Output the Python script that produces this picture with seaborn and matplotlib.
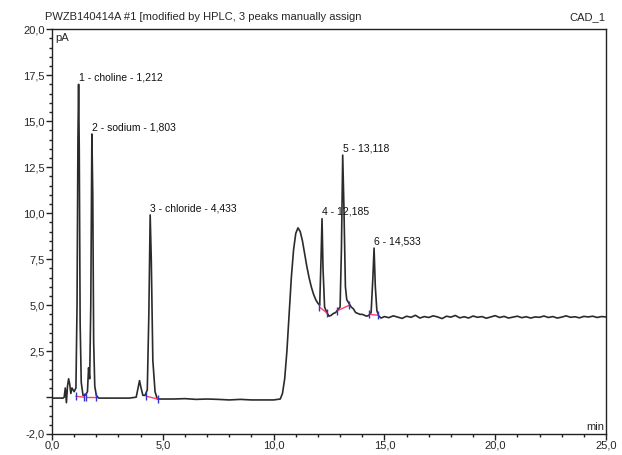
import numpy as np
import pandas as pd
import matplotlib
matplotlib.use("Agg")
import matplotlib.pyplot as plt
import seaborn as sns
from matplotlib.ticker import FixedLocator, MultipleLocator

# ── Data ───────────────────────────────────────────────────────

TRACE_TIME = [
    0.0, 0.3, 0.5, 0.55, 0.6, 0.65, 0.7, 0.75, 0.8, 0.85, 0.9, 1.0, 1.08,
    1.13, 1.17, 1.2, 1.23, 1.27, 1.32, 1.4, 1.5, 1.6, 1.65, 1.7, 1.75, 1.8,
    1.84, 1.88, 1.93, 2.0, 2.1, 2.5, 3.0, 3.5, 3.8, 3.9, 3.95, 4.0, 4.1, 4.2,
    4.3, 4.37, 4.43, 4.48, 4.55, 4.65, 4.75, 4.9, 5.5, 6.0, 6.5, 7.0, 7.5,
    8.0, 8.5, 9.0, 9.5, 10.0, 10.3, 10.4, 10.5, 10.6, 10.7, 10.8, 10.9, 11.0,
    11.1, 11.2, 11.3, 11.4, 11.5, 11.6, 11.7, 11.8, 11.9, 12.0, 12.08, 12.14,
    12.185, 12.23, 12.3, 12.4, 12.5, 12.6, 12.7, 12.8, 12.9, 13.0, 13.06,
    13.118, 13.17, 13.24, 13.3, 13.4, 13.5, 13.6, 13.7, 13.8, 13.9, 14.0,
    14.1, 14.2, 14.3, 14.4, 14.48, 14.533, 14.59, 14.66, 14.75, 14.85,
    15.0, 15.2, 15.4, 15.6, 15.8, 16.0, 16.2, 16.4, 16.6, 16.8, 17.0, 17.2,
    17.4, 17.6, 17.8, 18.0, 18.2, 18.4, 18.6, 18.8, 19.0, 19.2, 19.4, 19.6,
    19.8, 20.0, 20.2, 20.4, 20.6, 20.8, 21.0, 21.2, 21.4, 21.6, 21.8, 22.0,
    22.2, 22.4, 22.6, 22.8, 23.0, 23.2, 23.4, 23.6, 23.8, 24.0, 24.2, 24.4,
    24.6, 24.8, 25.0,
]
TRACE_PA = [
    -0.05, -0.05, -0.05, 0.0, 0.5, -0.3, 0.6, 1.0, 0.7, 0.2, 0.5, 0.3, 0.5,
    5.0, 14.0, 17.0, 13.5, 4.0, 0.8, 0.1, 0.1, 0.3, 1.6, 1.0, 5.0, 14.3,
    11.0, 3.0, 0.6, 0.1, -0.05, -0.05, -0.05, -0.05, 0.0, 0.6, 0.9, 0.6, 0.1, 0.1,
    0.4, 4.5, 9.9, 7.5, 2.0, 0.3, -0.1, -0.1, -0.1, -0.08, -0.12, -0.1, -0.12,
    -0.15, -0.12, -0.15, -0.15, -0.15, -0.1, 0.2, 1.0, 2.5, 4.5, 6.5, 8.0, 8.9,
    9.2, 9.0, 8.5, 7.8, 7.1, 6.5, 6.0, 5.6, 5.3, 5.1, 5.0, 7.5,
    9.7, 7.0, 4.9, 4.6, 4.4, 4.45, 4.55, 4.6, 4.75, 4.9, 8.0,
    13.15, 10.5, 6.0, 5.3, 5.1, 4.9, 4.8, 4.6, 4.55, 4.5, 4.5,
    4.45, 4.4, 4.45, 4.6, 6.5, 8.1, 6.0, 4.7, 4.4, 4.3,
    4.38, 4.32, 4.42, 4.35, 4.28, 4.4, 4.34, 4.45, 4.3, 4.38, 4.33, 4.42,
    4.36, 4.27, 4.4, 4.35, 4.44, 4.31, 4.37, 4.3, 4.41, 4.34, 4.38, 4.29,
    4.36, 4.43, 4.33, 4.39, 4.3, 4.35, 4.4, 4.32, 4.37, 4.3, 4.36, 4.34,
    4.41, 4.33, 4.38, 4.3, 4.35, 4.42, 4.34, 4.37, 4.31, 4.39, 4.36, 4.4,
    4.33, 4.38, 4.36,
]

PEAK_TIME = [1.212, 1.803, 4.433, 12.185, 13.118, 14.533]
PEAK_HEIGHT = [17.0, 14.3, 9.9, 9.7, 13.15, 8.1]
PEAK_LABEL = [
    "1 - choline - 1,212",
    "2 - sodium - 1,803",
    "3 - chloride - 4,433",
    "4 - 12,185",
    "5 - 13,118",
    "6 - 14,533",
]

# integration baselines: start time, start pA, end time, end pA
BASE_T0 = [1.08, 1.55, 4.25, 12.07, 12.88, 14.32]
BASE_Y0 = [0.05, 0.0, 0.05, 4.9, 4.7, 4.5]
BASE_T1 = [1.45, 2.0, 4.78, 12.43, 13.42, 14.73]
BASE_Y1 = [0.0, 0.0, -0.1, 4.55, 5.0, 4.45]

Y_TICKS = [-2.0, 0.0, 2.5, 5.0, 7.5, 10.0, 12.5, 15.0, 17.5, 20.0]
X_TICKS = [0.0, 5.0, 10.0, 15.0, 20.0, 25.0]

TITLE = "PWZB140414A #1 [modified by HPLC, 3 peaks manually assign"
CHANNEL = "CAD_1"


def comma(v):
    return f"{v:.1f}".replace(".", ",")


# ── Plot ───────────────────────────────────────────────────────

sns.set_style("ticks")
plt.rcParams["font.family"] = ["Liberation Sans", "DejaVu Sans"]

fig = plt.figure(figsize=(6.22, 4.55), dpi=100)
ax = fig.add_axes([0.0836, 0.0462, 0.8907, 0.8898])

df = pd.DataFrame({"time": TRACE_TIME, "pA": TRACE_PA})
sns.lineplot(data=df, x="time", y="pA", ax=ax, sort=False,
             color="#2b2b2b", linewidth=1.2, estimator=None)

for t0, y0, t1, y1 in zip(BASE_T0, BASE_Y0, BASE_T1, BASE_Y1):
    ax.plot([t0, t1], [y0, y1], color="#ff4060", linewidth=1.0, zorder=3)
    ax.plot([t0, t1], [y0, y1], linestyle="none", marker="|",
            color="#3333cc", markersize=6, markeredgewidth=1.0, zorder=4)

for t, h, lab in zip(PEAK_TIME, PEAK_HEIGHT, PEAK_LABEL):
    ax.text(t, h + 0.1, lab, fontsize=7.5, ha="left", va="bottom", color="#111111")

ax.set_xlim(0, 25)
ax.set_ylim(-2, 20)
ax.yaxis.set_major_locator(FixedLocator(Y_TICKS))
ax.set_yticklabels(["" if v == 0 else comma(v) for v in Y_TICKS])
ax.yaxis.set_minor_locator(MultipleLocator(0.5))
ax.xaxis.set_major_locator(FixedLocator(X_TICKS))
ax.set_xticklabels([comma(v) for v in X_TICKS])
ax.xaxis.set_minor_locator(MultipleLocator(1.0))
ax.tick_params(which="major", direction="out", length=4, width=1,
               labelsize=8, pad=1, color="#222222")
ax.tick_params(which="minor", direction="out", length=2.5, width=1, color="#222222")
ax.set_xlabel("")
ax.set_ylabel("")

for sp in ax.spines.values():
    sp.set_visible(True)
    sp.set_color("#222222")
    sp.set_linewidth(1.0)

ax.text(0.006, 0.99, "pA", transform=ax.transAxes, fontsize=8, ha="left", va="top")
ax.text(0.997, 0.005, "min", transform=ax.transAxes, fontsize=8, ha="right", va="bottom")
fig.text(0.072, 0.962, TITLE, fontsize=8, ha="left", va="center")
fig.text(0.974, 0.962, CHANNEL, fontsize=8, ha="right", va="center")

fig.savefig("out.png", dpi=100)
plt.close(fig)
